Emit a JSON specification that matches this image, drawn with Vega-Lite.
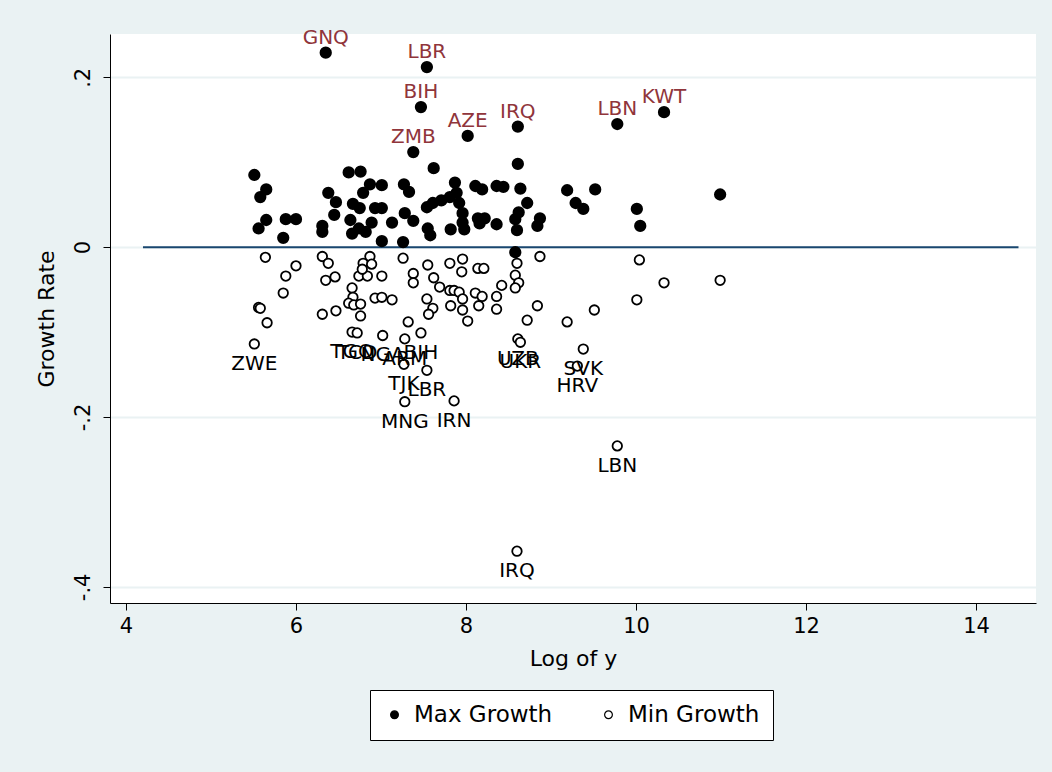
{
  "$schema": "https://vega.github.io/schema/vega-lite/v6.json",
  "width": 926,
  "height": 569,
  "autosize": "none",
  "padding": {"left": 110, "top": 34, "right": 16, "bottom": 169},
  "background": "#EAF2F3",
  "datasets": {
    "pts": [
      {"x":5.51,"g":0.085,"s":"Max Growth","c":""},
      {"x":5.65,"g":0.068,"s":"Max Growth","c":""},
      {"x":5.58,"g":0.059,"s":"Max Growth","c":""},
      {"x":5.65,"g":0.032,"s":"Max Growth","c":""},
      {"x":5.56,"g":0.022,"s":"Max Growth","c":""},
      {"x":5.88,"g":0.033,"s":"Max Growth","c":""},
      {"x":6.00,"g":0.033,"s":"Max Growth","c":""},
      {"x":5.85,"g":0.011,"s":"Max Growth","c":""},
      {"x":6.35,"g":0.229,"s":"Max Growth","c":"GNQ"},
      {"x":6.31,"g":0.025,"s":"Max Growth","c":""},
      {"x":6.31,"g":0.018,"s":"Max Growth","c":""},
      {"x":6.38,"g":0.064,"s":"Max Growth","c":""},
      {"x":6.47,"g":0.053,"s":"Max Growth","c":""},
      {"x":6.45,"g":0.038,"s":"Max Growth","c":""},
      {"x":6.62,"g":0.088,"s":"Max Growth","c":""},
      {"x":6.76,"g":0.089,"s":"Max Growth","c":""},
      {"x":6.87,"g":0.074,"s":"Max Growth","c":""},
      {"x":7.01,"g":0.073,"s":"Max Growth","c":""},
      {"x":6.79,"g":0.064,"s":"Max Growth","c":""},
      {"x":6.67,"g":0.051,"s":"Max Growth","c":""},
      {"x":6.75,"g":0.046,"s":"Max Growth","c":""},
      {"x":6.93,"g":0.046,"s":"Max Growth","c":""},
      {"x":7.01,"g":0.046,"s":"Max Growth","c":""},
      {"x":6.64,"g":0.032,"s":"Max Growth","c":""},
      {"x":6.89,"g":0.029,"s":"Max Growth","c":""},
      {"x":7.13,"g":0.029,"s":"Max Growth","c":""},
      {"x":6.66,"g":0.016,"s":"Max Growth","c":""},
      {"x":6.74,"g":0.022,"s":"Max Growth","c":""},
      {"x":6.82,"g":0.018,"s":"Max Growth","c":""},
      {"x":7.01,"g":0.007,"s":"Max Growth","c":""},
      {"x":7.38,"g":0.112,"s":"Max Growth","c":"ZMB"},
      {"x":7.54,"g":0.212,"s":"Max Growth","c":"LBR"},
      {"x":7.47,"g":0.165,"s":"Max Growth","c":"BIH"},
      {"x":8.02,"g":0.131,"s":"Max Growth","c":"AZE"},
      {"x":8.61,"g":0.142,"s":"Max Growth","c":"IRQ"},
      {"x":9.78,"g":0.145,"s":"Max Growth","c":"LBN"},
      {"x":10.33,"g":0.159,"s":"Max Growth","c":"KWT"},
      {"x":7.62,"g":0.093,"s":"Max Growth","c":""},
      {"x":8.61,"g":0.098,"s":"Max Growth","c":""},
      {"x":7.27,"g":0.074,"s":"Max Growth","c":""},
      {"x":7.33,"g":0.065,"s":"Max Growth","c":""},
      {"x":7.87,"g":0.076,"s":"Max Growth","c":""},
      {"x":8.11,"g":0.072,"s":"Max Growth","c":""},
      {"x":8.19,"g":0.068,"s":"Max Growth","c":""},
      {"x":8.36,"g":0.072,"s":"Max Growth","c":""},
      {"x":8.44,"g":0.071,"s":"Max Growth","c":""},
      {"x":8.64,"g":0.069,"s":"Max Growth","c":""},
      {"x":9.19,"g":0.067,"s":"Max Growth","c":""},
      {"x":9.52,"g":0.068,"s":"Max Growth","c":""},
      {"x":10.99,"g":0.062,"s":"Max Growth","c":""},
      {"x":9.29,"g":0.052,"s":"Max Growth","c":""},
      {"x":9.38,"g":0.045,"s":"Max Growth","c":""},
      {"x":10.01,"g":0.045,"s":"Max Growth","c":""},
      {"x":10.05,"g":0.025,"s":"Max Growth","c":""},
      {"x":8.72,"g":0.052,"s":"Max Growth","c":""},
      {"x":8.62,"g":0.041,"s":"Max Growth","c":""},
      {"x":8.58,"g":0.033,"s":"Max Growth","c":""},
      {"x":8.60,"g":0.020,"s":"Max Growth","c":""},
      {"x":8.87,"g":0.034,"s":"Max Growth","c":""},
      {"x":8.84,"g":0.025,"s":"Max Growth","c":""},
      {"x":7.28,"g":0.040,"s":"Max Growth","c":""},
      {"x":7.38,"g":0.031,"s":"Max Growth","c":""},
      {"x":7.54,"g":0.047,"s":"Max Growth","c":""},
      {"x":7.61,"g":0.052,"s":"Max Growth","c":""},
      {"x":7.71,"g":0.055,"s":"Max Growth","c":""},
      {"x":7.81,"g":0.059,"s":"Max Growth","c":""},
      {"x":7.89,"g":0.064,"s":"Max Growth","c":""},
      {"x":7.92,"g":0.052,"s":"Max Growth","c":""},
      {"x":7.96,"g":0.040,"s":"Max Growth","c":""},
      {"x":7.96,"g":0.029,"s":"Max Growth","c":""},
      {"x":7.98,"g":0.021,"s":"Max Growth","c":""},
      {"x":8.14,"g":0.034,"s":"Max Growth","c":""},
      {"x":8.22,"g":0.034,"s":"Max Growth","c":""},
      {"x":8.16,"g":0.028,"s":"Max Growth","c":""},
      {"x":8.36,"g":0.027,"s":"Max Growth","c":""},
      {"x":7.55,"g":0.022,"s":"Max Growth","c":""},
      {"x":7.58,"g":0.014,"s":"Max Growth","c":""},
      {"x":7.82,"g":0.021,"s":"Max Growth","c":""},
      {"x":7.26,"g":0.006,"s":"Max Growth","c":""},
      {"x":8.58,"g":-0.006,"s":"Max Growth","c":""},
      {"x":5.64,"g":-0.012,"s":"Min Growth","c":""},
      {"x":6.00,"g":-0.022,"s":"Min Growth","c":""},
      {"x":5.88,"g":-0.034,"s":"Min Growth","c":""},
      {"x":5.85,"g":-0.054,"s":"Min Growth","c":""},
      {"x":5.56,"g":-0.071,"s":"Min Growth","c":""},
      {"x":5.58,"g":-0.072,"s":"Min Growth","c":""},
      {"x":5.66,"g":-0.089,"s":"Min Growth","c":""},
      {"x":5.51,"g":-0.114,"s":"Min Growth","c":"ZWE"},
      {"x":6.31,"g":-0.011,"s":"Min Growth","c":""},
      {"x":6.38,"g":-0.019,"s":"Min Growth","c":""},
      {"x":6.35,"g":-0.039,"s":"Min Growth","c":""},
      {"x":6.46,"g":-0.035,"s":"Min Growth","c":""},
      {"x":6.31,"g":-0.079,"s":"Min Growth","c":""},
      {"x":6.47,"g":-0.075,"s":"Min Growth","c":""},
      {"x":6.87,"g":-0.011,"s":"Min Growth","c":""},
      {"x":6.79,"g":-0.019,"s":"Min Growth","c":""},
      {"x":6.89,"g":-0.020,"s":"Min Growth","c":""},
      {"x":6.74,"g":-0.034,"s":"Min Growth","c":""},
      {"x":6.84,"g":-0.034,"s":"Min Growth","c":""},
      {"x":6.78,"g":-0.026,"s":"Min Growth","c":""},
      {"x":7.01,"g":-0.034,"s":"Min Growth","c":""},
      {"x":6.66,"g":-0.048,"s":"Min Growth","c":""},
      {"x":6.67,"g":-0.059,"s":"Min Growth","c":""},
      {"x":6.62,"g":-0.066,"s":"Min Growth","c":""},
      {"x":6.68,"g":-0.068,"s":"Min Growth","c":""},
      {"x":6.76,"g":-0.067,"s":"Min Growth","c":""},
      {"x":6.76,"g":-0.081,"s":"Min Growth","c":""},
      {"x":6.93,"g":-0.060,"s":"Min Growth","c":""},
      {"x":7.01,"g":-0.059,"s":"Min Growth","c":""},
      {"x":7.13,"g":-0.062,"s":"Min Growth","c":""},
      {"x":6.66,"g":-0.100,"s":"Min Growth","c":"TGO"},
      {"x":6.72,"g":-0.101,"s":"Min Growth","c":"TCD"},
      {"x":7.02,"g":-0.104,"s":"Min Growth","c":"NGA"},
      {"x":7.26,"g":-0.013,"s":"Min Growth","c":""},
      {"x":7.38,"g":-0.031,"s":"Min Growth","c":""},
      {"x":7.38,"g":-0.042,"s":"Min Growth","c":""},
      {"x":7.55,"g":-0.021,"s":"Min Growth","c":""},
      {"x":7.62,"g":-0.036,"s":"Min Growth","c":""},
      {"x":7.81,"g":-0.019,"s":"Min Growth","c":""},
      {"x":7.96,"g":-0.014,"s":"Min Growth","c":""},
      {"x":7.95,"g":-0.029,"s":"Min Growth","c":""},
      {"x":8.14,"g":-0.025,"s":"Min Growth","c":""},
      {"x":8.21,"g":-0.025,"s":"Min Growth","c":""},
      {"x":7.69,"g":-0.047,"s":"Min Growth","c":""},
      {"x":7.81,"g":-0.051,"s":"Min Growth","c":""},
      {"x":7.86,"g":-0.051,"s":"Min Growth","c":""},
      {"x":7.92,"g":-0.053,"s":"Min Growth","c":""},
      {"x":7.96,"g":-0.061,"s":"Min Growth","c":""},
      {"x":7.54,"g":-0.061,"s":"Min Growth","c":""},
      {"x":7.61,"g":-0.072,"s":"Min Growth","c":""},
      {"x":7.56,"g":-0.079,"s":"Min Growth","c":""},
      {"x":7.82,"g":-0.069,"s":"Min Growth","c":""},
      {"x":7.96,"g":-0.074,"s":"Min Growth","c":""},
      {"x":8.02,"g":-0.087,"s":"Min Growth","c":""},
      {"x":8.11,"g":-0.054,"s":"Min Growth","c":""},
      {"x":8.19,"g":-0.058,"s":"Min Growth","c":""},
      {"x":8.15,"g":-0.069,"s":"Min Growth","c":""},
      {"x":8.42,"g":-0.045,"s":"Min Growth","c":""},
      {"x":8.36,"g":-0.058,"s":"Min Growth","c":""},
      {"x":8.36,"g":-0.073,"s":"Min Growth","c":""},
      {"x":8.60,"g":-0.019,"s":"Min Growth","c":""},
      {"x":8.58,"g":-0.033,"s":"Min Growth","c":""},
      {"x":8.62,"g":-0.042,"s":"Min Growth","c":""},
      {"x":8.58,"g":-0.048,"s":"Min Growth","c":""},
      {"x":8.87,"g":-0.011,"s":"Min Growth","c":""},
      {"x":8.84,"g":-0.069,"s":"Min Growth","c":""},
      {"x":8.72,"g":-0.086,"s":"Min Growth","c":""},
      {"x":7.32,"g":-0.088,"s":"Min Growth","c":""},
      {"x":7.47,"g":-0.101,"s":"Min Growth","c":"BIH"},
      {"x":7.28,"g":-0.108,"s":"Min Growth","c":"ARM"},
      {"x":8.61,"g":-0.108,"s":"Min Growth","c":"UZB"},
      {"x":8.64,"g":-0.112,"s":"Min Growth","c":"UKR"},
      {"x":7.27,"g":-0.138,"s":"Min Growth","c":"TJK"},
      {"x":7.54,"g":-0.145,"s":"Min Growth","c":"LBR"},
      {"x":7.28,"g":-0.182,"s":"Min Growth","c":"MNG"},
      {"x":7.86,"g":-0.181,"s":"Min Growth","c":"IRN"},
      {"x":10.04,"g":-0.015,"s":"Min Growth","c":""},
      {"x":10.33,"g":-0.042,"s":"Min Growth","c":""},
      {"x":10.99,"g":-0.039,"s":"Min Growth","c":""},
      {"x":10.01,"g":-0.062,"s":"Min Growth","c":""},
      {"x":9.51,"g":-0.074,"s":"Min Growth","c":""},
      {"x":9.19,"g":-0.088,"s":"Min Growth","c":""},
      {"x":9.38,"g":-0.120,"s":"Min Growth","c":"SVK"},
      {"x":9.31,"g":-0.140,"s":"Min Growth","c":"HRV"},
      {"x":9.78,"g":-0.234,"s":"Min Growth","c":"LBN"},
      {"x":8.60,"g":-0.358,"s":"Min Growth","c":"IRQ"}
    ],
    "zero": [{"x": 4.2, "x2": 14.5, "y": 0}]
  },
  "layer": [
    {
      "data": {"name": "zero"},
      "mark": {"type": "rule", "color": "#1a476f", "strokeWidth": 2},
      "encoding": {
        "x": {"field": "x", "type": "quantitative", "scale": {"domain": [3.812, 14.706], "nice": false, "zero": false},
              "axis": {"title": "Log of y", "values": [4, 6, 8, 10, 12, 14], "format": "d", "grid": false, "labelPadding": 5, "titlePadding": 12}},
        "x2": {"field": "x2"},
        "y": {"field": "y", "type": "quantitative", "scale": {"domain": [-0.419, 0.251], "nice": false, "zero": false},
              "axis": {"title": "Growth Rate", "values": [-0.4, -0.2, 0, 0.2], "grid": true, "gridColor": "#EAF2F3", "gridWidth": 2,
                       "labelAngle": 270, "labelAlign": "center", "labelBaseline": "bottom", "labelPadding": 10, "titlePadding": 14,
                       "labelExpr": "datum.value > 0.1 ? '.2' : datum.value > -0.1 ? '0' : datum.value > -0.3 ? '-.2' : '-.4'"}}
      }
    },
    {
      "data": {"name": "pts"},
      "transform": [{"filter": "datum.s == 'Max Growth'"}],
      "mark": {"type": "point", "shape": "circle", "filled": false, "stroke": "black", "strokeWidth": 1.8, "opacity": 1, "size": 110},
      "encoding": {
        "x": {"field": "x", "type": "quantitative"},
        "y": {"field": "g", "type": "quantitative"},
        "fill": {"field": "s", "type": "nominal", "scale": {"domain": ["Max Growth", "Min Growth"], "range": ["black", "white"]},
                 "legend": {"title": null, "orient": "none", "legendX": 260, "legendY": 656, "direction": "horizontal"}}
      }
    },
    {
      "data": {"name": "pts"},
      "transform": [{"filter": "datum.s == 'Min Growth'"}],
      "mark": {"type": "point", "shape": "circle", "filled": false, "stroke": "black", "strokeWidth": 1.8, "opacity": 1, "size": 90},
      "encoding": {
        "x": {"field": "x", "type": "quantitative"},
        "y": {"field": "g", "type": "quantitative"},
        "fill": {"field": "s", "type": "nominal"}
      }
    },
    {
      "data": {"name": "pts"},
      "transform": [{"filter": "datum.s == 'Max Growth' && datum.c != ''"}],
      "mark": {"type": "text", "font": "DejaVu Sans", "fontSize": 20, "color": "#90353B", "baseline": "alphabetic", "align": "center", "dy": -9},
      "encoding": {
        "x": {"field": "x", "type": "quantitative"},
        "y": {"field": "g", "type": "quantitative"},
        "text": {"field": "c"}
      }
    },
    {
      "data": {"name": "pts"},
      "transform": [{"filter": "datum.s == 'Min Growth' && datum.c != ''"}],
      "mark": {"type": "text", "font": "DejaVu Sans", "fontSize": 20, "color": "black", "baseline": "alphabetic", "align": "center", "dy": 26},
      "encoding": {
        "x": {"field": "x", "type": "quantitative"},
        "y": {"field": "g", "type": "quantitative"},
        "text": {"field": "c"}
      }
    }
  ],
  "config": {
    "view": {"stroke": null, "fill": "white"},
    "axis": {"domainColor": "black", "domainWidth": 1, "tickColor": "black", "tickSize": 7, "labelFont": "DejaVu Sans", "titleFont": "DejaVu Sans",
             "labelFontSize": 21, "titleFontSize": 22, "titleFontWeight": "normal", "labelColor": "black", "titleColor": "black"},
    "legend": {"labelFont": "DejaVu Sans", "labelFontSize": 23, "labelColor": "black", "symbolSize": 60, "symbolStrokeColor": "black",
               "symbolStrokeWidth": 1.2, "strokeColor": "black", "fillColor": "white", "padding": 13, "columnPadding": 44, "labelOffset": 8,
               "symbolType": "circle"}
  }
}
